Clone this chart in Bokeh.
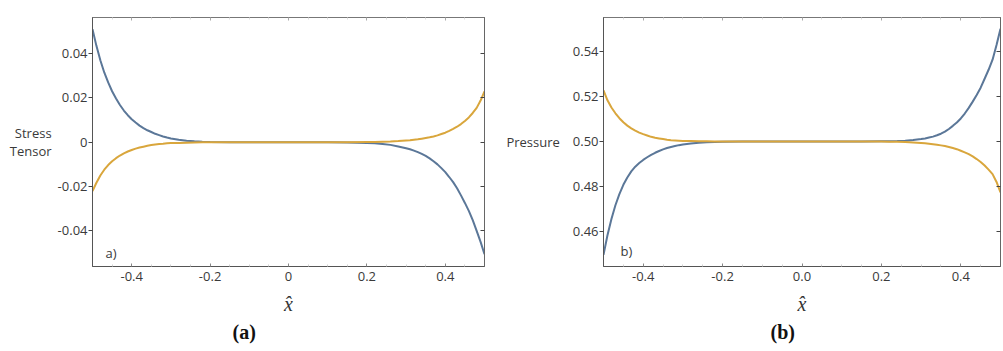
from bokeh.plotting import figure
from bokeh.models import Range1d, FixedTicker, LinearAxis, Label, Title
from bokeh.layouts import row
from bokeh.embed import file_html
from bokeh.resources import INLINE

# ---------------- data ----------------
x_hat = [-0.50, -0.49, -0.48, -0.47, -0.46, -0.45, -0.44, -0.43, -0.42, -0.41, -0.40,
         -0.39, -0.38, -0.37, -0.36, -0.35, -0.34, -0.33, -0.32, -0.31, -0.30,
         -0.28, -0.26, -0.24, -0.22, -0.20, -0.15, -0.10, 0.0, 0.10, 0.15, 0.20, 0.22,
         0.24, 0.26, 0.28,
         0.30, 0.31, 0.32, 0.33, 0.34, 0.35, 0.36, 0.37, 0.38, 0.39, 0.40,
         0.41, 0.42, 0.43, 0.44, 0.45, 0.46, 0.47, 0.48, 0.49, 0.50]

stress_blue = [0.0510, 0.0435, 0.0370, 0.0315, 0.0270, 0.0230, 0.0197, 0.0168, 0.0143, 0.0122, 0.0104,
               0.0089, 0.0075, 0.0064, 0.0054, 0.0046, 0.0038, 0.0032, 0.0026, 0.0021, 0.0017,
               0.0011, 0.0007, 0.0004, 0.0002, 0.0001, 0.0, 0.0, 0.0, 0.0, -0.0001, -0.0003, -0.0005,
               -0.0008, -0.0012, -0.0019,
               -0.0027, -0.0032, -0.0038, -0.0045, -0.0053, -0.0062, -0.0073, -0.0086, -0.0100, -0.0117,
               -0.0135, -0.0157, -0.0180, -0.0208, -0.0240, -0.0274, -0.0310, -0.0352, -0.0400, -0.0450,
               -0.0505]
stress_orange = [-0.0220, -0.0183, -0.0150, -0.0124, -0.0103, -0.0086, -0.0072, -0.0060, -0.0050, -0.0042,
                 -0.0035, -0.0029, -0.0024, -0.0020, -0.0016, -0.0013, -0.0010, -0.0008, -0.0007, -0.0005,
                 -0.0004,
                 -0.0003, -0.0002, -0.0001, 0.0, 0.0, 0.0, 0.0, 0.0, 0.0, 0.0, 0.0001, 0.0001,
                 0.0002, 0.0003, 0.0005,
                 0.0008, 0.0009, 0.0011, 0.0013, 0.0016, 0.0019, 0.0022, 0.0026, 0.0031, 0.0037, 0.0043,
                 0.0051, 0.0060, 0.0070, 0.0082, 0.0096, 0.0112, 0.0132, 0.0155, 0.0188, 0.0230]

pressure_blue = [0.4495, 0.4582, 0.4655, 0.4716, 0.4766, 0.4807, 0.4840, 0.4867, 0.4888, 0.4904, 0.4918,
                 0.4930, 0.4941, 0.4950, 0.4958, 0.4965, 0.4971, 0.4976, 0.4980, 0.4984, 0.4987,
                 0.4991, 0.4995, 0.4997, 0.4998, 0.4999, 0.5, 0.5, 0.5, 0.5, 0.5, 0.5001, 0.5001,
                 0.5002, 0.5004, 0.5007,
                 0.5011, 0.5014, 0.5018, 0.5022, 0.5028, 0.5035, 0.5044, 0.5056, 0.5070, 0.5085, 0.5103,
                 0.5125, 0.5150, 0.5178, 0.5208, 0.5240, 0.5280, 0.5320, 0.5365, 0.5430, 0.5503]
pressure_orange = [0.5228, 0.5184, 0.5152, 0.5126, 0.5104, 0.5086, 0.5071, 0.5059, 0.5049, 0.5040, 0.5033,
                   0.5027, 0.5021, 0.5017, 0.5014, 0.5011, 0.5008, 0.5006, 0.5005, 0.5004, 0.5003,
                   0.5002, 0.5001, 0.5001, 0.5, 0.5, 0.5, 0.5, 0.5, 0.5, 0.5, 0.5, 0.4999,
                   0.4999, 0.4998, 0.4996,
                   0.4994, 0.4992, 0.4990, 0.4988, 0.4986, 0.4983, 0.4980, 0.4976, 0.4971, 0.4966, 0.4959,
                   0.4952, 0.4944, 0.4934, 0.4922, 0.4909, 0.4893, 0.4875, 0.4855, 0.4820, 0.4773]

xa_ticks = [-0.4, -0.2, 0.0, 0.2, 0.4]
xa_labels = ["-0.4", "-0.2", "0", "0.2", "0.4"]
xb_labels = ["-0.4", "-0.2", "0.0", "0.2", "0.4"]
x_minor = [-0.45, -0.35, -0.3, -0.25, -0.15, -0.1, -0.05, 0.05, 0.1, 0.15, 0.25, 0.3, 0.35, 0.45]
ya_ticks = [-0.04, -0.02, 0.0, 0.02, 0.04]
ya_labels = ["-0.04", "-0.02", "0", "0.02", "0.04"]
yb_ticks = [0.46, 0.48, 0.50, 0.52, 0.54]
yb_labels = ["0.46", "0.48", "0.50", "0.52", "0.54"]

BLUE = "#5b7798"
ORANGE = "#d9a63c"
TXT = "#3a3a3a"
FONT = "Open Sans"


def style_axes(p, xt, xl, yt, yl, ylabel, ylabel_standoff):
    xa = p.xaxis[0]
    xa.ticker = FixedTicker(ticks=xt, minor_ticks=x_minor)
    xa.major_label_overrides = {t: l for t, l in zip(xt, xl)}
    xa.major_tick_in = 3
    xa.major_tick_out = 0
    xa.minor_tick_in = 2
    xa.minor_tick_out = 0
    xa.minor_tick_line_color = "#d0d0d0"
    xa.major_tick_line_color = "#888888"
    xa.major_label_standoff = 5
    xa.axis_line_color = "#555555"
    xa.major_label_text_font = FONT
    xa.major_label_text_font_size = "13px"
    xa.major_label_text_color = TXT
    xa.axis_label = "x\u0302"
    xa.axis_label_text_font = "Liberation Serif"
    xa.axis_label_text_font_style = "italic"
    xa.axis_label_text_font_size = "20px"
    xa.axis_label_text_color = "#333333"
    xa.axis_label_standoff = 9

    ya = p.yaxis[0]
    ya.ticker = FixedTicker(ticks=yt)
    ya.major_label_overrides = {t: l for t, l in zip(yt, yl)}
    ya.major_tick_in = 0
    ya.major_tick_out = 4
    ya.minor_tick_line_color = None
    ya.major_tick_line_color = "#444444"
    ya.major_label_standoff = 1
    ya.axis_line_color = "#555555"
    ya.major_label_text_font = FONT
    ya.major_label_text_font_size = "13px"
    ya.major_label_text_color = TXT
    ya.axis_label = ylabel
    ya.axis_label_orientation = "horizontal"
    ya.axis_label_text_font = FONT
    ya.axis_label_text_font_style = "normal"
    ya.axis_label_text_font_size = "13px"
    ya.axis_label_text_line_height = 0.95
    ya.axis_label_text_color = TXT
    ya.axis_label_standoff = ylabel_standoff

    top = LinearAxis(ticker=FixedTicker(ticks=xt, minor_ticks=x_minor),
                     major_label_text_font_size="0px", major_label_standoff=0,
                     major_tick_in=3, major_tick_out=0, minor_tick_in=2, minor_tick_out=0,
                     major_tick_line_color="#aaaaaa", minor_tick_line_color="#dddddd",
                     axis_line_color="#777777")
    right = LinearAxis(ticker=FixedTicker(ticks=yt),
                       major_label_text_font_size="0px", major_label_standoff=0,
                       major_tick_in=4, major_tick_out=0, minor_tick_line_color=None,
                       major_tick_line_color="#444444", axis_line_color="#666666")
    p.add_layout(top, "above")
    p.add_layout(right, "right")


def make_fig(width, height, bl, br, bt, bb, yr):
    p = figure(width=width, height=height, x_range=Range1d(-0.5, 0.5), y_range=Range1d(*yr),
               output_backend="svg", toolbar_location=None,
               min_border_left=bl, min_border_right=br, min_border_top=bt, min_border_bottom=bb)
    p.grid.visible = False
    p.outline_line_color = "#666666"
    p.background_fill_color = "white"
    p.border_fill_color = "white"
    return p


def panel_caption(p, text, offset):
    p.add_layout(Title(text=text, align="left", offset=offset, standoff=3,
                       text_font="Liberation Serif", text_font_size="20px",
                       text_font_style="bold", text_color="#111111"), "below")


# ---------------- panel a ----------------
ya_range = (-0.0561, 0.0563)
pa = make_fig(498, 351, 92, 14, 13, 85, ya_range)
style_axes(pa, xa_ticks, xa_labels, ya_ticks, ya_labels, "Stress\nTensor", 3)
pa.line(x_hat, stress_blue, line_color=BLUE, line_width=2)
pa.line(x_hat, stress_orange, line_color=ORANGE, line_width=2)
pa.add_layout(Label(x=-0.4668, y=-0.0499, text="a)", text_font=FONT, text_font_size="13px",
                    text_baseline="middle", text_color=TXT))
panel_caption(pa, "(a)", 140)

# ---------------- panel b ----------------
yb_range = (0.4443, 0.5553)
pb = make_fig(505, 351, 105, 3, 17, 78, yb_range)
style_axes(pb, xa_ticks, xb_labels, yb_ticks, yb_labels, "Pressure", 10)
pb.line(x_hat, pressure_blue, line_color=BLUE, line_width=2)
pb.line(x_hat, pressure_orange, line_color=ORANGE, line_width=2)
pb.add_layout(Label(x=-0.4572, y=0.4512, text="b)", text_font=FONT, text_font_size="13px",
                    text_baseline="middle", text_color=TXT))
panel_caption(pb, "(b)", 167)

layout = row(pa, pb)
open("out.html", "w").write(file_html(layout, INLINE))
